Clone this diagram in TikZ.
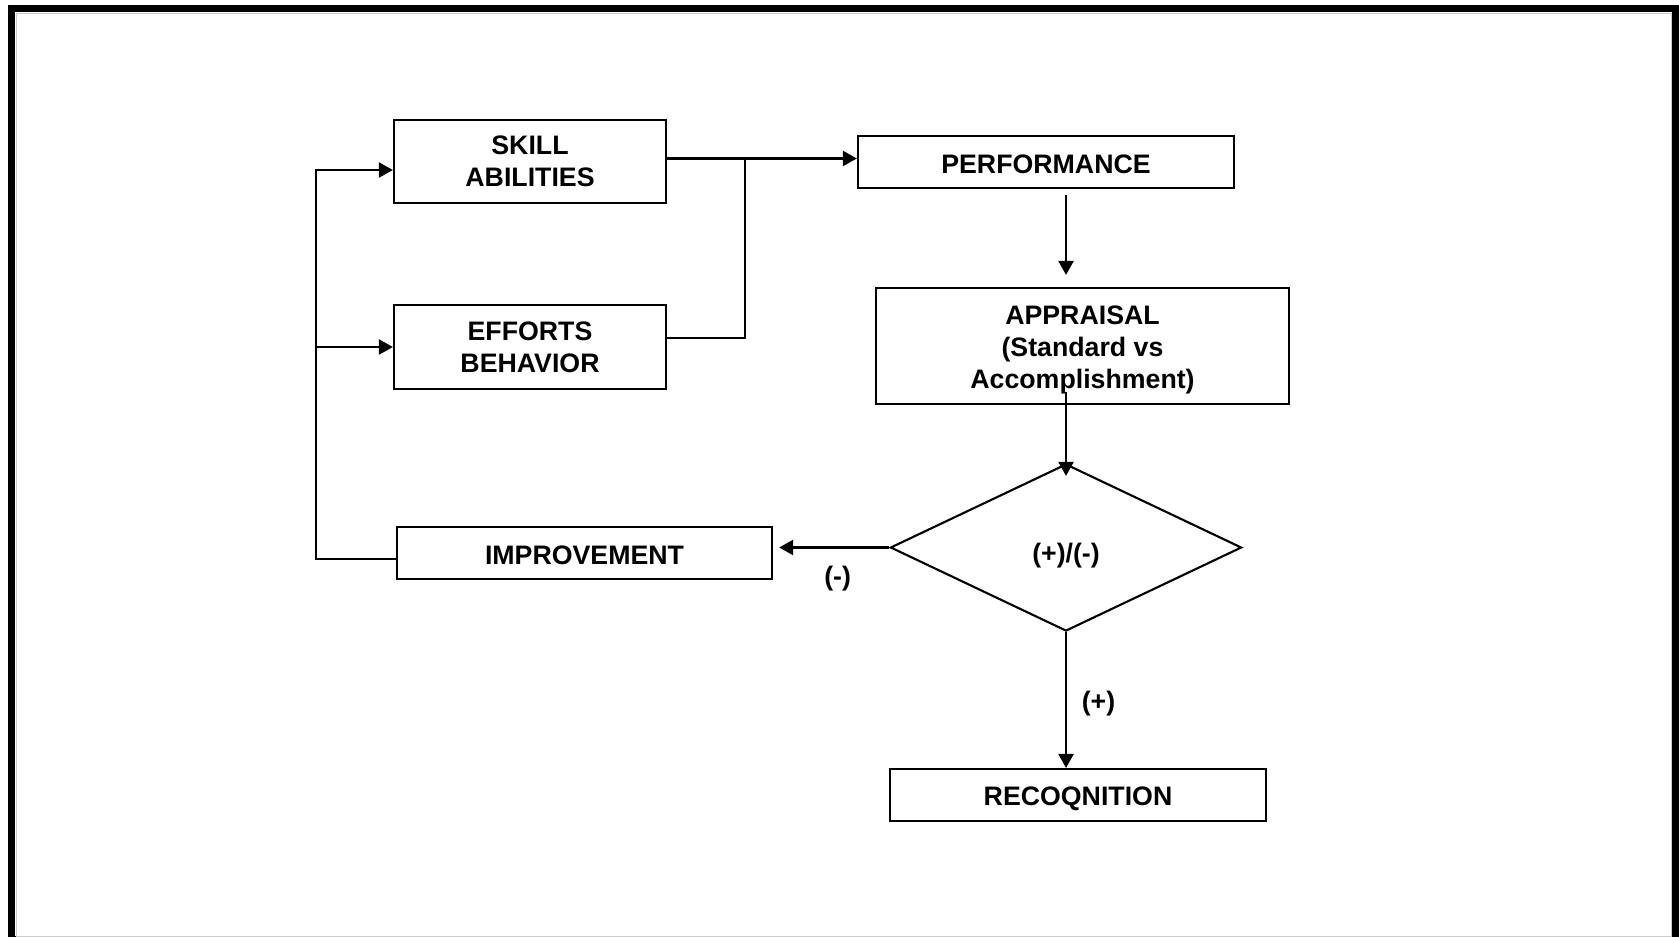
\documentclass[tikz,border=0pt]{standalone}
\usepackage{fontspec}
\setmainfont{Liberation Sans}
\usetikzlibrary{shapes.geometric,arrows.meta}

\newcommand{\lowertext}[2]{\raisebox{-#1}[\height][\depth]{#2}}

\begin{document}
\begin{tikzpicture}[x=0.01cm,y=-0.01cm,->,>={Triangle[length=4pt,width=4.3pt]},line width=0.6pt,
  main node/.style={rectangle,draw,align=center,inner sep=0pt,font=\fontsize{7.6}{9.2}\selectfont\bfseries},
  test node/.style={diamond,draw,inner sep=0pt,minimum width=3.51cm,minimum height=1.67cm,font=\fontsize{7.6}{9.2}\selectfont\bfseries}]

  \useasboundingbox (0,0) rectangle (1679,936);
  \draw[-,line width=0.07cm] (11.5,8.5) rectangle (1675.5,939);
  \draw[-,gray!40,line width=0.01cm] (16,13) rectangle (1671,936);

  \node[main node,minimum width=2.72cm,minimum height=0.83cm] (1) at (530,161.5) {SKILL\\ABILITIES};
  \node[main node,minimum width=2.72cm,minimum height=0.84cm] (2) at (530,347) {EFFORTS\\BEHAVIOR};
  \node[main node,minimum width=3.76cm,minimum height=0.52cm] (3) at (1046,162) {\lowertext{0.6pt}{PERFORMANCE}};
  \node[main node,minimum width=4.13cm,minimum height=1.16cm] (4) at (1082.5,346)
    {\lowertext{1.1pt}{APPRAISAL}\\\lowertext{1.1pt}{(Standard vs}\\\lowertext{1.1pt}{Accomplishment)}};
  \node[test node] (5) at (1066,547.5) {\lowertext{2.4pt}{(+)/(-)}};
  \node[main node,minimum width=3.75cm,minimum height=0.52cm] (6) at (584.5,553) {\lowertext{0.6pt}{IMPROVEMENT}};
  \node[main node,minimum width=3.76cm,minimum height=0.52cm] (7) at (1078,795) {\lowertext{1.2pt}{RECOQNITION}};

  \coordinate (j) at (745,158.5);
  \coordinate (t) at (316,170);
  \coordinate (b) at (316,559);

  \draw ([yshift=0.03cm]1.east) -- ([yshift=0.03cm]1.east -| 3.west);
  \draw[-] ([yshift=0.09cm]2.east) -| (j);
  \draw (6.west |- b) -- (b) -- (t) -- (1.west |- t);
  \draw (b |- 2.west) -- (2.west);

  \path[every node/.style={font=\fontsize{7.6}{9.2}\selectfont\bfseries}]
    (3.south -| 5.north) edge [shorten <=0.06cm,shorten >=0.12cm] (4.north -| 5.north)
    (4.south -| 5.north) edge [shorten <=-0.13cm,shorten >=-0.13cm] (5.north)
    (5.west) edge [shorten >=0.06cm] node [below=0.06cm,xshift=0.064cm] {(-)} (5.west -| 6.east)
    (5.south) edge node [right=0.03cm,yshift=-0.04cm] {(+)} (5.south |- 7.north);

\end{tikzpicture}
\end{document}
